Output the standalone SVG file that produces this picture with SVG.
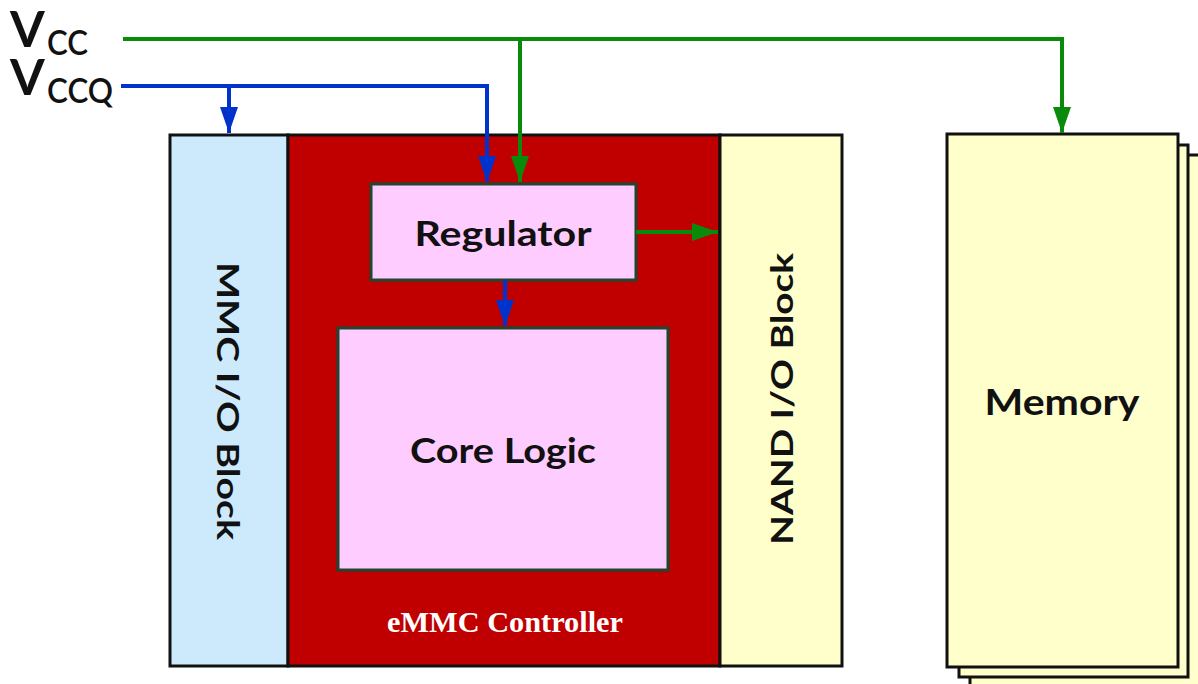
<svg xmlns="http://www.w3.org/2000/svg" width="1198" height="684" viewBox="0 0 1198 684">
<defs>
<style>
.box{stroke:#111;stroke-width:3}
.inner{stroke:#1e4630;stroke-width:3;fill:#ffccff}
.lbl{font-family:Lato,"Liberation Sans",sans-serif;font-weight:bold;fill:#111;text-anchor:middle;dominant-baseline:central}
.g{stroke:#0a8a0a;stroke-width:4;fill:none}
.b{stroke:#0033cc;stroke-width:4;fill:none}
.v{font-family:Lato,"Liberation Sans",sans-serif;font-weight:bold;fill:#111}
.sub{font-family:Lato,"Liberation Sans",sans-serif;font-weight:600;fill:#111}
</style>
<marker id="ag" viewBox="0 0 26 18" refX="26" refY="9" markerWidth="26" markerHeight="18" markerUnits="userSpaceOnUse" orient="auto"><path d="M0,0L26,9L0,18z" fill="#0a8a0a"/></marker>
<marker id="ab" viewBox="0 0 26 18" refX="26" refY="9" markerWidth="26" markerHeight="18" markerUnits="userSpaceOnUse" orient="auto"><path d="M0,0L26,9L0,18z" fill="#0033cc"/></marker>
</defs>
<rect width="1198" height="684" fill="#fff"/>
<g id="memory">
<rect class="box" x="970" y="155" width="240" height="540" fill="#ffffcc"/>
<rect class="box" x="959" y="145" width="229" height="532" fill="#ffffcc"/>
<rect class="box" x="947" y="134" width="231" height="533" fill="#ffffcc"/>
<text class="lbl" x="1062" y="401" font-size="36" textLength="155" lengthAdjust="spacingAndGlyphs">Memory</text>
</g>
<g id="mmc-io">
<rect class="box" x="170" y="135" width="118" height="531" fill="#cdeafc"/>
<text class="lbl" transform="translate(229,401) rotate(90)" font-size="31" textLength="278" lengthAdjust="spacingAndGlyphs">MMC I/O Block</text>
</g>
<g id="controller">
<rect class="box" x="288" y="135" width="432" height="531" fill="#c00000"/>
<text x="505" y="622" font-family="'Liberation Serif',serif" font-weight="bold" font-size="29" fill="#fff" text-anchor="middle" dominant-baseline="central" textLength="236" lengthAdjust="spacingAndGlyphs">eMMC Controller</text>
</g>
<g id="nand-io">
<rect class="box" x="720" y="135" width="122" height="531" fill="#ffffcc"/>
<text class="lbl" transform="translate(781,399) rotate(-90)" font-size="31" textLength="292" lengthAdjust="spacingAndGlyphs">NAND I/O Block</text>
</g>
<g id="regulator">
<rect class="inner" x="371" y="184" width="265" height="96"/>
<text class="lbl" x="503" y="232" font-size="34" textLength="177" lengthAdjust="spacingAndGlyphs">Regulator</text>
</g>
<g id="core-logic">
<rect class="inner" x="338" y="328" width="330" height="242"/>
<text class="lbl" x="503" y="449" font-size="34" textLength="186" lengthAdjust="spacingAndGlyphs">Core Logic</text>
</g>
<g id="vcc-label">
<text class="v" x="10" y="47" font-size="50">V</text>
<text class="sub" x="47" y="55" font-size="34" textLength="41" lengthAdjust="spacingAndGlyphs">CC</text>
</g>
<g id="vccq-label">
<text class="v" x="10" y="95" font-size="50">V</text>
<text class="sub" x="47" y="103" font-size="34" textLength="66" lengthAdjust="spacingAndGlyphs">CCQ</text>
</g>
<g id="connectors">
<path class="g" d="M123,39H1062V133" marker-end="url(#ag)"/>
<path class="g" d="M520,39V182" marker-end="url(#ag)"/>
<path class="b" d="M121,86H487V182" marker-end="url(#ab)"/>
<path class="b" d="M229,86V133" marker-end="url(#ab)"/>
<path class="g" d="M636,232H718" marker-end="url(#ag)"/>
<path class="b" d="M505,280V326" marker-end="url(#ab)"/>
</g>
</svg>
